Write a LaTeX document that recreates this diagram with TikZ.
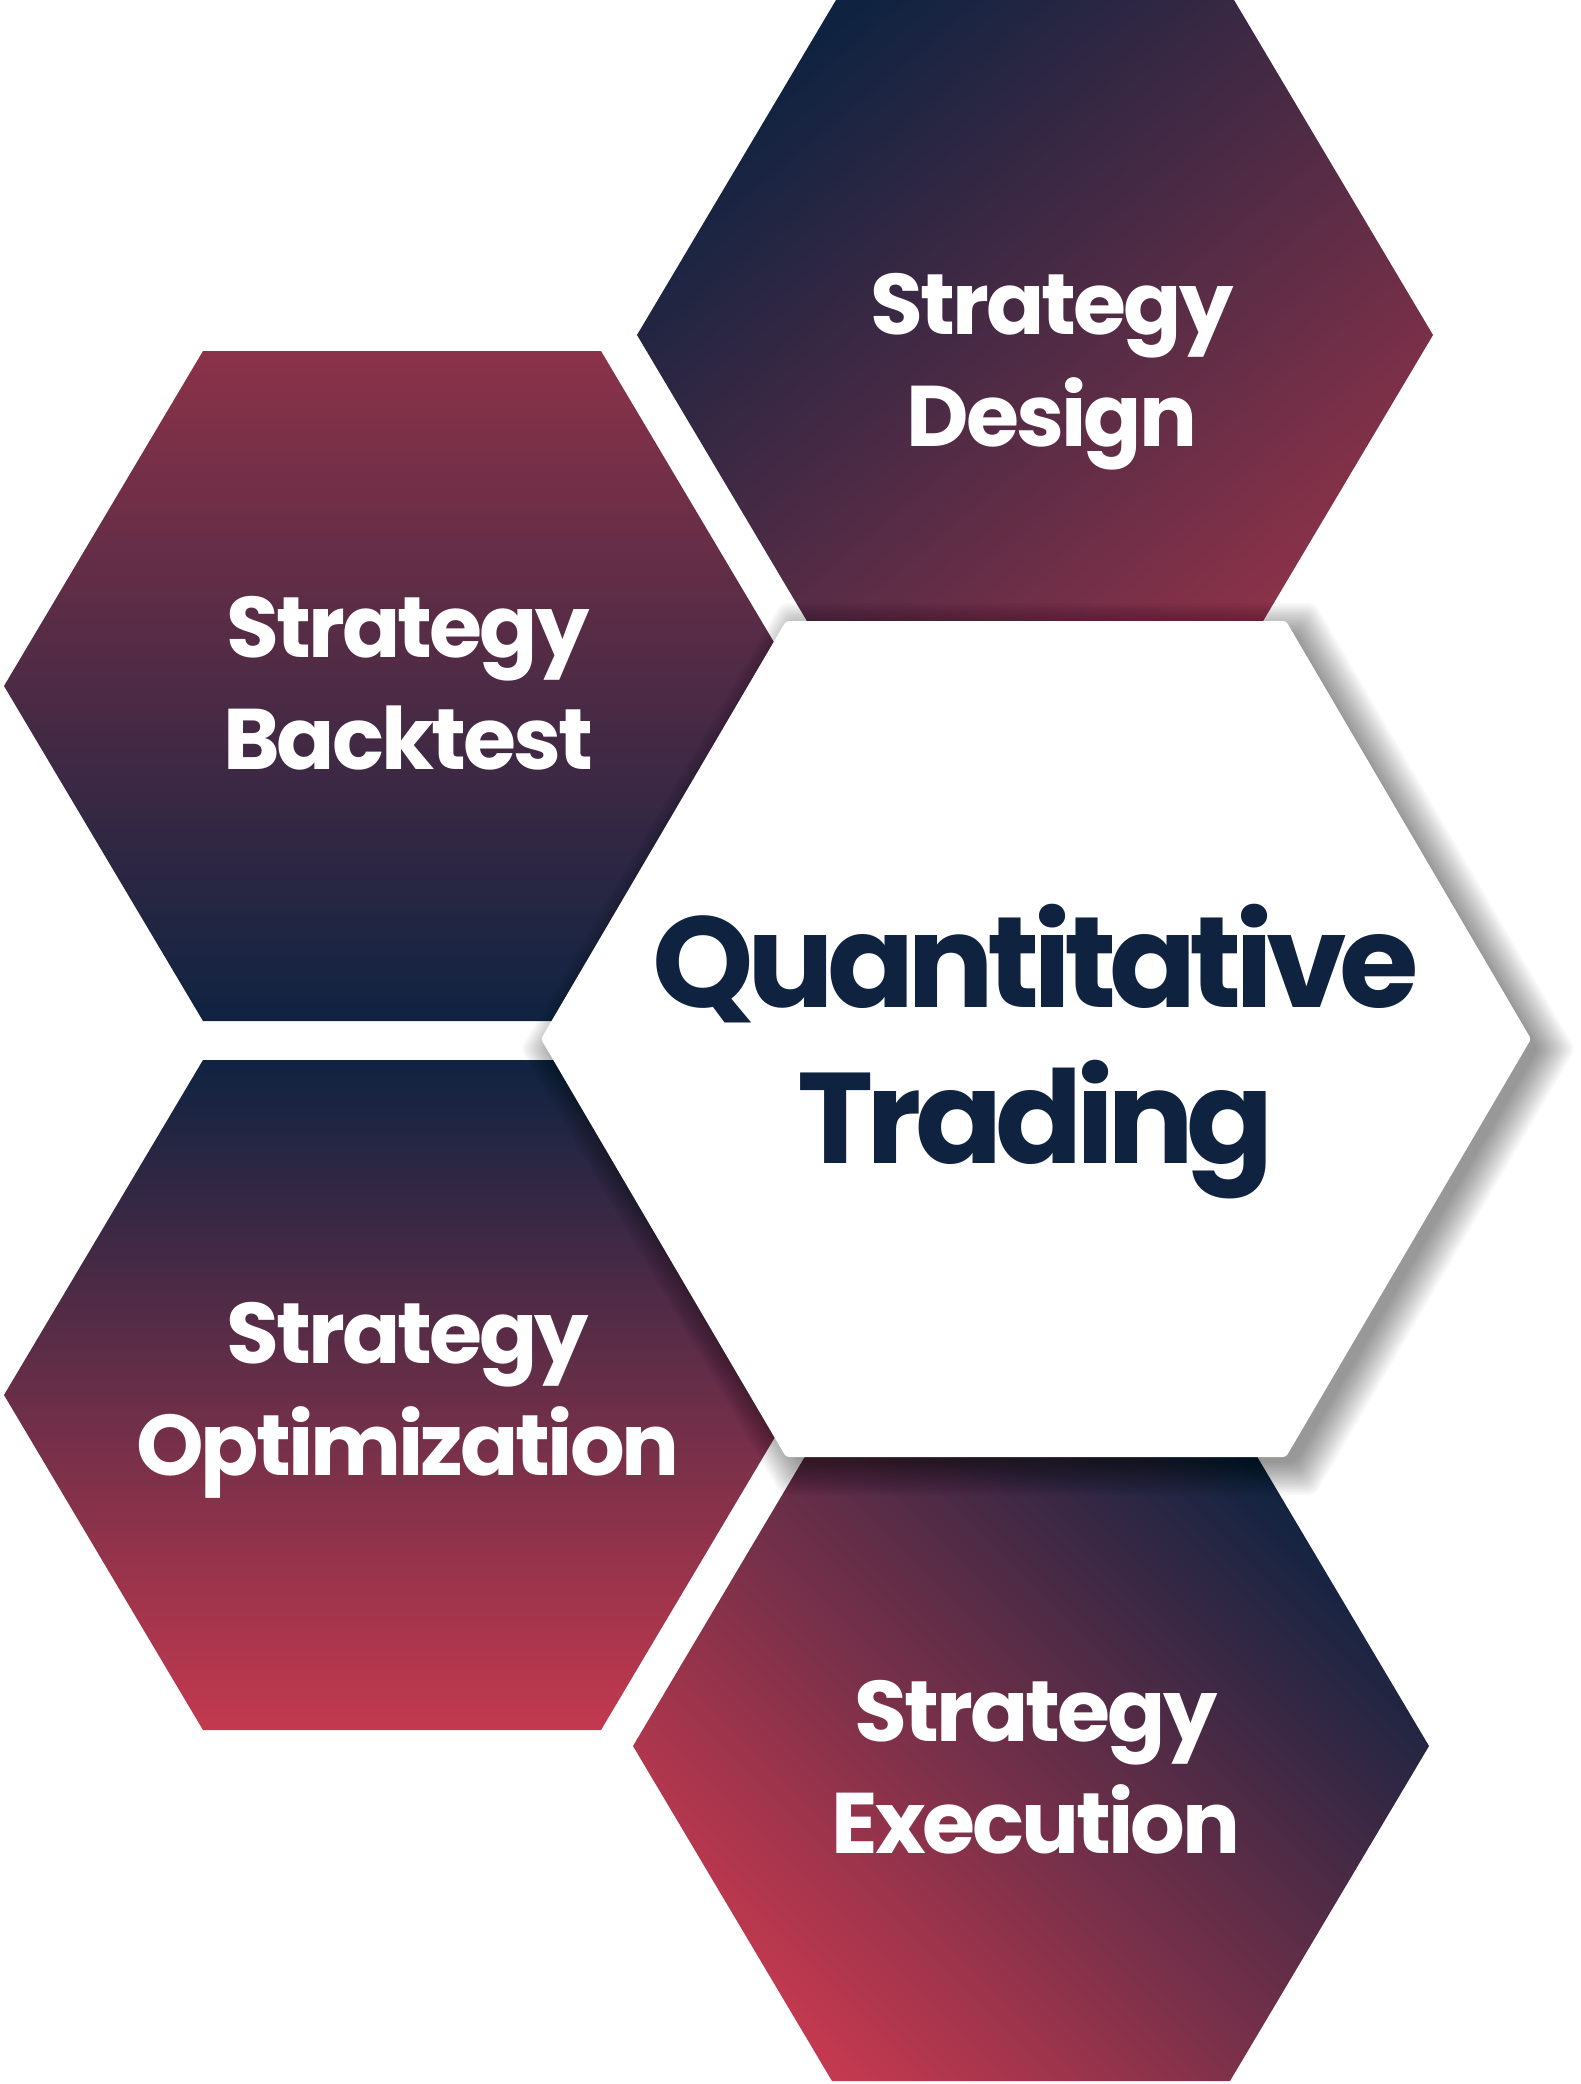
\documentclass[tikz,border=0pt]{standalone}
\usepackage{fontspec}
\setmainfont{Poppins}
\newfontfamily\smallfam{Poppins}[LetterSpace=-3.5]
\newfontfamily\bigfam{Poppins}[LetterSpace=-5.5]
\definecolor{navy}{HTML}{0F2341}
\definecolor{wine}{HTML}{8B3249}
\definecolor{rose}{HTML}{C3394F}
\newcommand{\hexat}[5]{({(#1)-(#3)},{#2}) -- ({(#1)-(#4)},{(#2)+(#5)}) -- ({(#1)+(#4)},{(#2)+(#5)}) -- ({(#1)+(#3)},{#2}) -- ({(#1)+(#4)},{(#2)-(#5)}) -- ({(#1)-(#4)},{(#2)-(#5)}) -- cycle}
\tikzset{
  smalltext/.style={text=white, align=center, font=\smallfam\bfseries\fontsize{86}{112}\selectfont, inner sep=0pt},
  bigtext/.style={text=navy, align=center, font=\bigfam\bfseries\fontsize{129}{156}\selectfont, inner sep=0pt},
  shadowlayer/.style={fill=black, fill opacity=0.028, rounded corners=6pt},
}
\begin{document}
\begin{tikzpicture}[x=1pt,y=1pt]
\useasboundingbox (0,0) rectangle (1580,-2084);
\fill[white] (0,0) rectangle (1580,-2084);
% Strategy Design
\shade[top color=navy, bottom color=wine, shading angle=40] \hexat{1035}{-335}{398}{199}{335};
% Strategy Backtest
\shade[top color=wine, bottom color=navy] \hexat{402}{-686}{398}{199}{335};
% Strategy Optimization
\shade[top color=navy, bottom color=rose] \hexat{402}{-1395}{398}{199}{335};
% Strategy Execution
\shade[top color=navy, bottom color=rose, shading angle=-45] \hexat{1031}{-1746}{398}{199}{335};
% soft shadow of the centre hexagon
\foreach \d in {-4,-2,...,28}{
  \path[shadowlayer] \hexat{1048}{-1049}{495+1.15*\d}{250+0.6*\d}{418+\d};
}
% centre
\path[fill=white, rounded corners=3pt] \hexat{1036}{-1039}{495}{250}{418};

\node[smalltext, anchor=base] (design) at (1052,-446) {Strategy\\Design};
\node[smalltext, anchor=base] (backtest) at (408,-769) {Strategy\\Backtest};
\node[smalltext, anchor=base] (optim) at (408,-1475) {Strategy\\Optimization};
\node[smalltext, anchor=base] (exec) at (1036,-1853) {Strategy\\Execution};
\node[bigtext, anchor=base] (qt) at (1036,-1163) {Quantitative\\Trading};
\end{tikzpicture}
\end{document}
